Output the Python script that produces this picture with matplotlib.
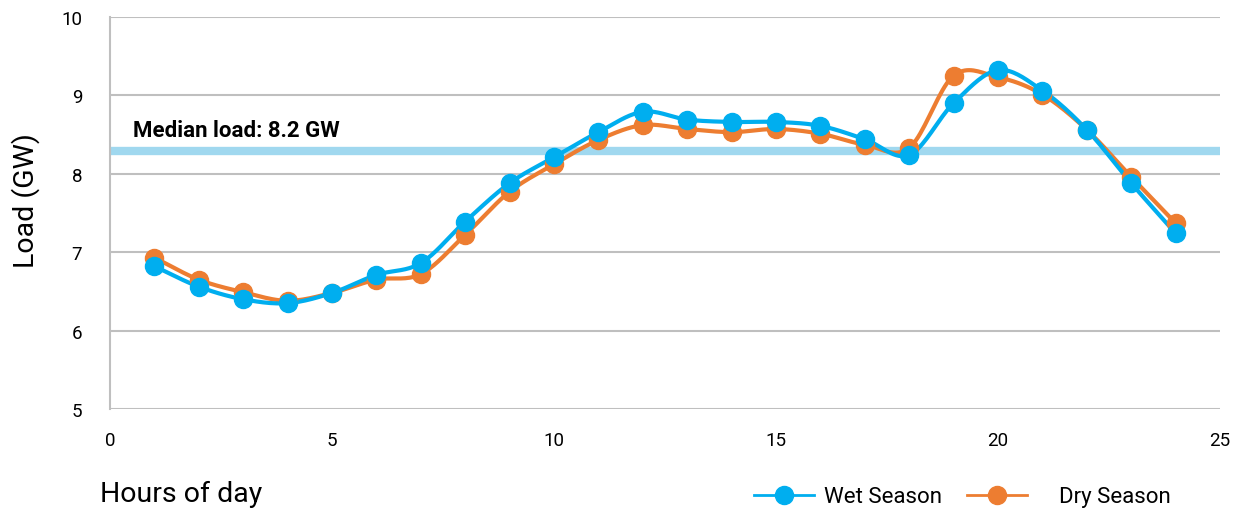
import matplotlib.pyplot as plt
from matplotlib.lines import Line2D
import numpy as np

plt.rcParams['font.family'] = ['Roboto', 'DejaVu Sans']

heures = list(range(1, 25))
wet = [6.82, 6.56, 6.40, 6.35, 6.48, 6.71, 6.86, 7.39, 7.88, 8.21, 8.53, 8.79,
       8.69, 8.66, 8.66, 8.61, 8.44, 8.24, 8.90, 9.32, 9.06, 8.56, 7.88, 7.24]
dry = [6.93, 6.65, 6.49, 6.38, 6.48, 6.65, 6.72, 7.22, 7.77, 8.12, 8.43, 8.62,
       8.57, 8.53, 8.57, 8.51, 8.37, 8.33, 9.25, 9.23, 9.01, 8.56, 7.96, 7.37]
mediane = 8.29
mediane_txt = "Median load: 8.2 GW"

bleu = "#00aeef"
orange = "#ed7d31"


# courbe lissee (catmull-rom) juste pour le trace du trait
def lisser(x, y, n=20):
  x = np.asarray(x, float)
  y = np.asarray(y, float)
  px = np.concatenate([[2*x[0]-x[1]], x, [2*x[-1]-x[-2]]])
  py = np.concatenate([[2*y[0]-y[1]], y, [2*y[-1]-y[-2]]])
  xs, ys = [], []
  t = np.linspace(0, 1, n, endpoint=False)
  for i in range(1, len(px)-2):
    for p, out in ((px, xs), (py, ys)):
      p0, p1, p2, p3 = p[i-1], p[i], p[i+1], p[i+2]
      out.extend(0.5*((2*p1) + (-p0+p2)*t + (2*p0-5*p1+4*p2-p3)*t**2
                      + (-p0+3*p1-3*p2+p3)*t**3))
  xs.append(x[-1])
  ys.append(y[-1])
  return xs, ys


fig = plt.figure(figsize=(12.41, 5.10), dpi=100)
ax = fig.add_axes([0.0886, 0.196, 0.8945, 0.769])

ax.axhline(mediane, color="#a0d8ef", lw=6, zorder=1)
ax.text(0.52, 8.48, mediane_txt, fontsize=16, fontweight="bold",
        ha="left", va="baseline")

for serie, couleur in ((dry, orange), (wet, bleu)):
  xs, ys = lisser(heures, serie)
  ax.plot(xs, ys, color=couleur, lw=3, zorder=3, solid_capstyle="round")
  ax.plot(heures, serie, "o", color=couleur, ms=13, zorder=4)

ax.set_xlim(0, 25)
ax.set_ylim(5, 10)
ax.set_xticks([0, 5, 10, 15, 20, 25])
ax.set_yticks([5, 6, 7, 8, 9, 10])
ax.grid(axis="y", color="#bfbfbf", lw=1.5)
ax.set_axisbelow(True)
for cote in ["top", "right", "bottom"]:
  ax.spines[cote].set_visible(False)
ax.spines["left"].set_color("#bfbfbf")
ax.spines["left"].set_linewidth(1.5)
ax.tick_params(length=0, labelsize=13.5)
ax.tick_params(axis="y", pad=20)
ax.tick_params(axis="x", pad=16)

ax.set_ylabel("Load (GW)", fontsize=20.5)
ax.yaxis.set_label_coords(-0.063, 0.533)
fig.text(100/1241, 1-494/510, "Hours of day", fontsize=20.5, va="center")

poignees = [Line2D([], [], color=bleu, lw=2, marker="o", ms=13),
            Line2D([], [], color=orange, lw=2, marker="o", ms=13)]
fig.legend(poignees, ["Wet Season", "    Dry Season"], ncol=2, frameon=False,
           fontsize=16, loc="center right", bbox_to_anchor=(0.943, 1-498/510),
           borderaxespad=0, borderpad=0, handlelength=2.7, handletextpad=0.45,
           columnspacing=1.1)

plt.savefig("out.png", dpi=100)
